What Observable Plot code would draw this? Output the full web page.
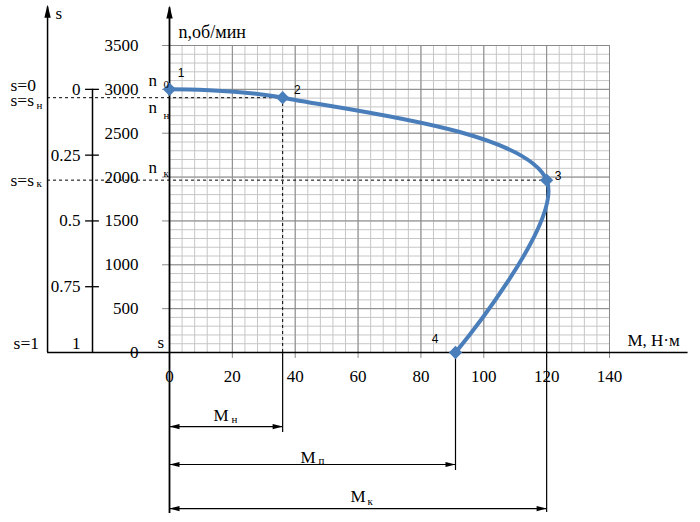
<!DOCTYPE html>
<html><head><meta charset="utf-8">
<script src="https://cdn.jsdelivr.net/npm/d3@7"></script>
<script src="https://cdn.jsdelivr.net/npm/@observablehq/plot@0.6"></script>
<style>
body{margin:0;background:#fff}
#chart svg{display:block}
#chart svg text{font-family:"Liberation Serif","Times New Roman","DejaVu Serif",serif !important}
#chart svg g[font-size="12"] text{font-family:"Liberation Sans",Arial,sans-serif !important}
</style>
</head><body><div id="chart"></div>
<script>
// ---- data ----
const torque = [0, 36, 120, 91];          // M, Н·м at points 1..4
const speed = [3000, 2905, 1965, 0];      // n, об/мин at points 1..4
const pointNames = ["1", "2", "3", "4"];
const xTicks = [0, 20, 40, 60, 80, 100, 120, 140];
const yTicks = [0, 500, 1000, 1500, 2000, 2500, 3000, 3500];
const sTicks = [0, 0.25, 0.5, 0.75, 1];
const sTickLabels = ["0", "0.25", "0.5", "0.75", "1"];
const nSync = 3000;
const xMinorStep = 4, yMinorStep = 100;

const pts = torque.map((m, i) => ({M: m, n: speed[i], name: pointNames[i]}));
const [Mnom, Mcrit, Mstart] = [torque[1], torque[2], torque[3]];
const [nNom, nCrit] = [speed[1], speed[2]];
const xMinor = d3.range(0, 140 + 1e-9, xMinorStep);
const yMinor = d3.range(0, 3500 + 1e-9, yMinorStep);

// annotation layout (in chart units: M along x, n along y)
const sAxisM = -38.8, sScaleM = -24.5, xEnd = 165;
const blue = "#4a7ebb";
const serif = "Liberation Serif";
const sans = "Liberation Sans";
const labelDx = [11.5, 14.6, 11.4, -20.5], labelDy = [-16, -8, -3.6, -13.5];

const arrowHead = (L, w) => ({draw(ctx) { ctx.moveTo(0, 0); ctx.lineTo(w, L); ctx.lineTo(-w, L); ctx.closePath(); }});
const bigHead = arrowHead(13, 3.2), dimHead = arrowHead(10, 2.6);

function txt(t, x, y, o = {}) {
  return Plot.text([t], {x: [x], y: [y], text: d => d, fontSize: 17, fontFamily: serif, fill: "#000", ...o});
}
function sub(t, x, y, o = {}) { return txt(t, x, y, {fontSize: 11, textAnchor: "start", ...o}); }
function hline(y, x1, x2, o = {}) { return Plot.ruleY([y], {x1, x2, stroke: "#000", strokeWidth: 1.2, ...o}); }
function vline(x, y1, y2, o = {}) { return Plot.ruleX([x], {y1, y2, stroke: "#000", strokeWidth: 1.2, ...o}); }

const chart = Plot.plot({
  width: 700, height: 522,
  marginLeft: 169, marginRight: 91, marginTop: 45, marginBottom: 170,
  x: {domain: [0, 140], axis: null},
  y: {domain: [0, 3500], axis: null},
  style: {background: "#fff"},
  marks: [
    // grid
    Plot.ruleX(xMinor, {y1: 0, y2: 3500, stroke: "#c6c6c6", strokeWidth: 1}),
    Plot.ruleY(yMinor, {x1: 0, x2: 140, stroke: "#c6c6c6", strokeWidth: 1}),
    Plot.ruleX(xTicks, {y1: -68, y2: 3500, stroke: "#8a8a8a", strokeWidth: 1}),
    Plot.ruleY(yTicks, {x1: -2.2, x2: 140, stroke: "#8a8a8a", strokeWidth: 1}),
    // axes
    hline(0, sAxisM, xEnd, {strokeWidth: 1.5}),
    vline(0, -1835, 3930, {strokeWidth: 1.8}),
    vline(sAxisM, 0, 3940, {strokeWidth: 1.5}),
    vline(sScaleM, 0, nSync, {strokeWidth: 1.5}),
    Plot.dot([0], {x: [0], y: [3956], symbol: bigHead, fill: "#000", stroke: null}),
    Plot.dot([0], {x: [sAxisM], y: [3966], symbol: bigHead, fill: "#000", stroke: null}),
    // s scale ticks
    Plot.ruleY(sTicks.slice(0, 4).map(s => nSync * (1 - s)), {x1: -26.7, x2: -22.3, stroke: "#000", strokeWidth: 1.3}),
    Plot.text(sTicks, {x: -28.3, y: s => (s < 1 ? nSync * (1 - s) : 103), text: (s, i) => sTickLabels[i], textAnchor: "end", fontSize: 17, fontFamily: serif}),
    // dashed guides
    hline(nNom, sAxisM, Mnom, {strokeDasharray: "3,3", strokeWidth: 1}),
    hline(nCrit, sAxisM, Mcrit, {strokeDasharray: "3,3", strokeWidth: 1}),
    vline(Mnom, 0, nNom, {strokeDasharray: "3,3", strokeWidth: 1}),
    // extension lines
    vline(Mnom, -912, 0),
    vline(Mstart, -1345, 0),
    vline(Mcrit, -1824, nCrit),
    // dimension lines
    hline(-844, 0, Mnom, {strokeWidth: 1.2}),
    hline(-1277, 0, Mstart, {strokeWidth: 1.2}),
    hline(-1779, 0, Mcrit, {strokeWidth: 1.2}),
    Plot.dot([-844, -1277, -1779], {x: 0, y: d => d, symbol: dimHead, rotate: -90, fill: "#000", stroke: null}),
    Plot.dot([[Mnom, -844], [Mstart, -1277], [Mcrit, -1779]], {x: d => d[0], y: d => d[1], symbol: dimHead, rotate: 90, fill: "#000", stroke: null}),
    // curve
    Plot.line(pts, {x: "M", y: "n", curve: "catmull-rom", stroke: blue, strokeWidth: 4}),
    Plot.dot(pts, {x: "M", y: "n", symbol: "diamond2", r: 6, fill: blue, stroke: null}),
    ...pts.map((p, i) => Plot.text([p], {x: "M", y: "n", text: "name", dx: labelDx[i], dy: labelDy[i], fontSize: 12, fontFamily: sans})),
    // tick labels
    Plot.text(xTicks, {x: d => d, y: -274, text: d => String(d), fontSize: 17, fontFamily: serif}),
    Plot.text(yTicks, {x: -9.9, y: d => d, text: d => String(d), textAnchor: "end", fontSize: 17, fontFamily: serif}),
    // axis titles
    txt("n,об/мин", 2.9, 3650, {textAnchor: "start", fontSize: 18}),
    txt("M, Н·м", 145.7, 137, {textAnchor: "start"}),
    txt("s", -36.3, 3865, {textAnchor: "start"}),
    // left labels
    txt("s=0", -50.6, 3045, {textAnchor: "start", fontSize: 17.5}),
    txt("s=s", -50.6, 2875, {textAnchor: "start", fontSize: 17.5}),
    sub("н", -42.3, 2815),
    txt("s=s", -50.6, 1961, {textAnchor: "start", fontSize: 17.5}),
    sub("к", -42.3, 1930),
    txt("s=1", -49.6, 103, {textAnchor: "start", fontSize: 17.5}),
    // n labels
    txt("n", -6.7, 3095, {textAnchor: "start"}),
    sub("0", -1.9, 3055),
    txt("n", -6.7, 2793, {textAnchor: "start"}),
    sub("н", -1.9, 2708),
    txt("n", -6.7, 2103, {textAnchor: "start"}),
    sub("к", -1.9, 2046),
    txt("s", -3.8, 108, {textAnchor: "start"}),
    // dimension labels
    txt("M", 14.0, -718, {textAnchor: "start"}),
    sub("н", 19.7, -758),
    txt("M", 41.7, -1197, {textAnchor: "start"}),
    sub("п", 47.4, -1226),
    txt("M", 57.6, -1647, {textAnchor: "start"}),
    sub("к", 63.0, -1704)
  ]
});
document.getElementById("chart").append(chart);
</script>
</body></html>
